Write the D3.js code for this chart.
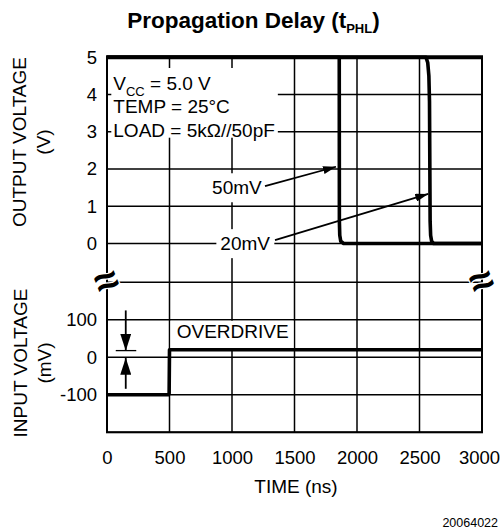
<!DOCTYPE html>
<html>
<head>
<meta charset="utf-8">
<script src="https://cdn.jsdelivr.net/npm/d3@7"></script>
<style>
  html, body { margin: 0; padding: 0; background: #fff; }
  svg { display: block; }
  text { font-family: "Liberation Sans", Arial, Helvetica, sans-serif; fill: #000; }
</style>
</head>
<body>
<svg id="chart" width="501" height="531"></svg>
<script>
// ---------- data ----------
const timeTicks = [0, 500, 1000, 1500, 2000, 2500, 3000];
const outTicks = [0, 1, 2, 3, 4, 5];
const inTicks = [-100, 0, 100];
const inGrid = [-200, -100, 0, 100, 200];

// output voltage traces (time ns, volts)
const trace50mV = [[0, 5], [1858, 5], [1859, 0.6], [1862, 0.22], [1870, 0.06], [1893, 0], [3000, 0]];
const trace20mV = [[0, 5], [2552, 5], [2566, 4.85], [2575, 4.5], [2580, 3.8], [2585, 0.6], [2589, 0.22], [2597, 0.06], [2613, 0], [3000, 0]];
// input voltage (time ns, mV)
const inputTrace = [[0, -100], [490, -100], [497, -96], [500, 20], [3000, 20]];

const conditions = ["= 5.0 V", "TEMP = 25°C", "LOAD = 5kΩ//50pF"];
const labelNames = ["50mV", "20mV"];
const labelPos = [[1238, 1.5], [1304, 0]];           // text end (ns, V)
const arrowFrom = [[1264, 1.54], [1344, 0.09]];       // (ns, V)
const arrowTo = [[1832, 2.06], [2570, 1.33]];         // (ns, V)
const overdriveLevel = 20;   // mV
const overdriveTime = 150;   // ns (marker position)

// ---------- layout ----------
const svg = d3.select("#chart");
const x = d3.scaleLinear().domain([0, 3000]).range([107, 482]);
const yOut = d3.scaleLinear().domain([0, 5]).range([243.5, 57.2]);
const yIn = d3.scaleLinear().domain([-200, 200]).range([432.3, 282.3]);
const pTop = yOut(5), pBottom = yIn(-200), pLeft = x(0), pRight = x(3000);

const FONT = 19;

// defs: arrowheads
const defs = svg.append("defs");
defs.append("marker").attr("id", "ahs").attr("markerUnits", "userSpaceOnUse")
  .attr("viewBox", "0 0 13 8").attr("refX", 13).attr("refY", 4)
  .attr("markerWidth", 13).attr("markerHeight", 8).attr("orient", "auto")
  .append("path").attr("d", "M0,0 L13,4 L0,8 Z").attr("fill", "#000");
defs.append("marker").attr("id", "ahb").attr("markerUnits", "userSpaceOnUse")
  .attr("viewBox", "0 0 17 11").attr("refX", 17).attr("refY", 5.5)
  .attr("markerWidth", 17).attr("markerHeight", 11).attr("orient", "auto")
  .append("path").attr("d", "M0,0 L17,5.5 L0,11 Z").attr("fill", "#000");

// ---------- grid ----------
const grid = svg.append("g").attr("stroke", "#000").attr("stroke-width", 1.5);
grid.selectAll(".vg").data(timeTicks).join("line").attr("class", "vg")
  .attr("x1", d => x(d)).attr("x2", d => x(d)).attr("y1", pTop).attr("y2", pBottom);
grid.selectAll(".hgo").data(outTicks).join("line").attr("class", "hgo")
  .attr("x1", pLeft).attr("x2", pRight).attr("y1", d => yOut(d)).attr("y2", d => yOut(d));
grid.selectAll(".hgi").data(inGrid).join("line").attr("class", "hgi")
  .attr("x1", pLeft).attr("x2", pRight).attr("y1", d => yIn(d)).attr("y2", d => yIn(d));

// ---------- condition text box ----------
const condG = svg.append("g");
const condX = 113.3;
const condBase = [90, 113.3, 136.7];
const condBg = condG.append("rect").attr("fill", "#fff");
const t0 = condG.append("text").attr("x", condX).attr("y", condBase[0]).attr("font-size", FONT);
t0.append("tspan").text("V");
t0.append("tspan").attr("font-size", 13).attr("dy", 5.5).text("CC");
t0.append("tspan").attr("dy", -5.5).text(" " + conditions[0]);
condG.append("text").attr("x", condX).attr("y", condBase[1]).attr("font-size", FONT).text(conditions[1]);
const t2 = condG.append("text").attr("x", condX).attr("y", condBase[2]).attr("font-size", FONT).text(conditions[2]);
const bb2 = t2.node().getBBox();
condBg.attr("x", condX - 2).attr("y", 68).attr("width", bb2.x + bb2.width + 3 - (condX - 2))
  .attr("height", condBase[2] + 1 - 68);

// ---------- overdrive box ----------
svg.append("rect").attr("fill", "#fff")
  .attr("x", x(500) + 1).attr("y", yIn(100) + 1)
  .attr("width", x(1500) - x(500) - 2).attr("height", yIn(overdriveLevel) - yIn(100) - 2);
svg.append("text").attr("x", 176.7).attr("y", 337.5).attr("font-size", FONT).text("OVERDRIVE");

// ---------- 50mV / 20mV labels ----------
labelNames.forEach((name, i) => {
  const g = svg.append("g");
  const bg = g.append("rect").attr("fill", "#fff");
  const t = g.append("text").attr("x", x(labelPos[i][0])).attr("y", yOut(labelPos[i][1]))
    .attr("dy", "0.35em").attr("text-anchor", "end").attr("font-size", FONT).text(name);
  const b = t.node().getBBox();
  bg.attr("x", b.x - 4).attr("y", b.y - 4).attr("width", b.width + 8).attr("height", b.height + 8);
  svg.append("line")
    .attr("x1", x(arrowFrom[i][0])).attr("y1", yOut(arrowFrom[i][1]))
    .attr("x2", x(arrowTo[i][0])).attr("y2", yOut(arrowTo[i][1]))
    .attr("stroke", "#000").attr("stroke-width", 1.8).attr("marker-end", "url(#ahs)");
});

// ---------- frame ----------
svg.append("rect").attr("x", pLeft).attr("y", pTop).attr("width", pRight - pLeft).attr("height", pBottom - pTop)
  .attr("fill", "none").attr("stroke", "#000").attr("stroke-width", 2);
svg.append("line").attr("x1", pLeft - 1).attr("x2", pRight + 1).attr("y1", pTop).attr("y2", pTop)
  .attr("stroke", "#000").attr("stroke-width", 4);

// ---------- traces ----------
const lineOut = d3.line().x(d => x(d[0])).y(d => yOut(d[1]));
const lineIn = d3.line().x(d => x(d[0])).y(d => yIn(d[1]));
[trace50mV, trace20mV].forEach(tr => {
  svg.append("path").attr("d", lineOut(tr)).attr("fill", "none").attr("stroke", "#000")
    .attr("stroke-width", 3.6).attr("stroke-linejoin", "round");
});
svg.append("path").attr("d", lineIn(inputTrace)).attr("fill", "none").attr("stroke", "#000")
  .attr("stroke-width", 3.6).attr("stroke-linejoin", "round");

// ---------- overdrive marker ----------
const ox = x(overdriveTime);
svg.append("line").attr("x1", ox - 10).attr("x2", ox + 10.5)
  .attr("y1", yIn(overdriveLevel) + 0.8).attr("y2", yIn(overdriveLevel) + 0.8)
  .attr("stroke", "#000").attr("stroke-width", 1.3);
svg.append("line").attr("x1", ox).attr("x2", ox).attr("y1", yIn(125)).attr("y2", yIn(overdriveLevel) + 1)
  .attr("stroke", "#000").attr("stroke-width", 1.8).attr("marker-end", "url(#ahb)");
svg.append("line").attr("x1", ox).attr("x2", ox).attr("y1", yIn(-84)).attr("y2", yIn(0) + 0.5)
  .attr("stroke", "#000").attr("stroke-width", 1.8).attr("marker-end", "url(#ahb)");

// ---------- break symbols ----------
[pLeft, pRight].forEach(bx => {
  svg.append("text").attr("x", bx).attr("y", yIn(200)).attr("dy", "0.3em")
    .attr("text-anchor", "middle").attr("font-size", 42).attr("font-weight", "bold")
    .attr("transform", `rotate(-22,${bx},${yIn(200)})`)
    .attr("stroke", "#fff").attr("stroke-width", 2.5).attr("paint-order", "stroke")
    .text("≈");
});

// ---------- axes ----------
const fmt = d => String(d);
const axX = svg.append("g").attr("transform", `translate(0,${pBottom})`)
  .call(d3.axisBottom(x).tickValues(timeTicks).tickSize(0).tickPadding(18.5).tickFormat(fmt));
const axO = svg.append("g").attr("transform", `translate(${pLeft},0)`)
  .call(d3.axisLeft(yOut).tickValues(outTicks).tickSize(0).tickPadding(10).tickFormat(fmt));
const axI = svg.append("g").attr("transform", `translate(${pLeft},0)`)
  .call(d3.axisLeft(yIn).tickValues(inTicks).tickSize(0).tickPadding(10).tickFormat(fmt));
[axX, axO, axI].forEach(a => {
  a.select(".domain").remove();
  a.selectAll("text").attr("font-size", 18.5).attr("font-family", null);
});
axX.selectAll(".tick text").filter(d => d === 3000).attr("dx", -3);

// ---------- titles ----------
const title = svg.append("text").attr("x", 253.5).attr("y", 28.3).attr("text-anchor", "middle")
  .attr("font-size", 22.5).attr("font-weight", "bold");
title.append("tspan").text("Propagation Delay (t");
title.append("tspan").attr("font-size", 13).attr("dy", 5).text("PHL");
title.append("tspan").attr("dy", -5).text(")");

svg.append("text").attr("x", 296).attr("y", 493).attr("text-anchor", "middle").attr("font-size", FONT).text("TIME (ns)");

function yTitle(lines, cy, bases) {
  lines.forEach((s, i) => {
    svg.append("text").attr("transform", `translate(${bases[i]},${cy}) rotate(-90)`)
      .attr("text-anchor", "middle").attr("font-size", FONT).text(s);
  });
}
yTitle(["OUTPUT VOLTAGE", "(V)"], 142, [25.5, 50]);
yTitle(["INPUT VOLTAGE", "(mV)"], 363, [26.5, 51]);

svg.append("text").attr("x", 498).attr("y", 526.5).attr("text-anchor", "end").attr("font-size", 12.5).text("20064022");
</script>
</body>
</html>
